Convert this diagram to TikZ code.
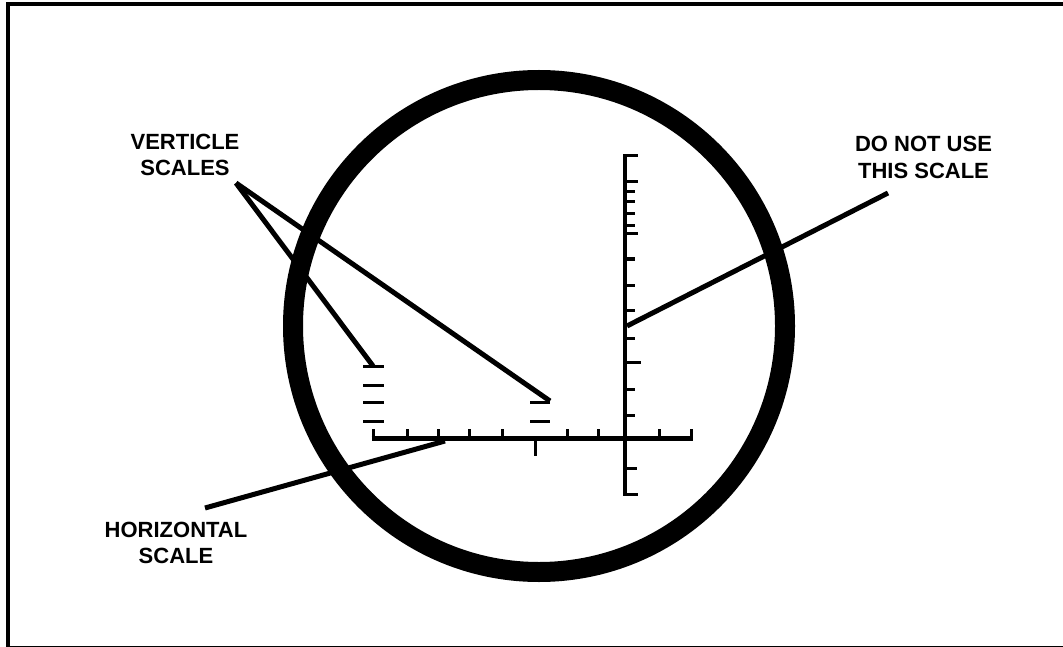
\documentclass[tikz,border=0pt]{standalone}
\usepackage{fontspec}
\setmainfont{Liberation Sans}
\usepackage{tikz}
\tikzset{
  frameline/.style={draw, line width=4pt},
  lens/.style={draw, line width=20pt},
  axisline/.style={line width=4.8pt},
  tick/.style={line width=3pt},
  leader/.style={line width=5pt},
  callout/.style={align=center, font=\fontsize{22}{26.5}\selectfont\bfseries, inner sep=0pt}
}
\begin{document}
\begin{tikzpicture}[x=1pt,y=-1pt]
        \useasboundingbox (0,0) rectangle (1063,647);
        \draw[frameline] (8,4) rectangle (1072,647.5);
        \node[lens, circle, minimum size=492pt] (ring) at (539,326) {};
        \node[callout] (vert) at (185,155) {VERTICLE\\SCALES};
        \node[callout] (donot) at (923.5,157.5) {DO NOT USE\\THIS SCALE};
        \node[callout] (horiz) at (176,543) {HORIZONTAL\\SCALE};
        \coordinate (vfoot) at (236,183);
        \coordinate (dfoot) at (888,193);
        \coordinate (hfoot) at (205,508);
        \coordinate (vleft) at (373,366);
        \coordinate (vmid) at (550,401);
        \coordinate (vaxis) at (627,326);
        \coordinate (haxis) at (445,441);
        \coordinate (axl) at (371.5,438.5);
        \coordinate (axr) at (692.5,438.5);
        \coordinate (axt) at (625,154.5);
        \coordinate (axb) at (625,495.5);
        % reticle
        \draw[axisline] (axl) -- (axr);
        \draw[axisline] (axt) -- (axb);
        \foreach \x in {373,407,438,469,502,567,598,659,691}
          \draw[tick] (\x,438) -- (\x,429);
        \draw[tick] (535,438) -- (535,456);
        \foreach \y/\e in {156/638,182/638,192/635,202/635,214/635,226/635,234/638,259/635,285/635,310/635,338/635,362/641,389/635,415/635,468/637,494/638}
          \draw[tick] (625,\y) -- (\e,\y);
        \foreach \y in {366,385,402,421}
          \draw[tick] (363,\y) -- (384,\y);
        \foreach \y in {402,421}
          \draw[tick] (530,\y) -- (550,\y);
        % leaders
        \draw[leader] (vfoot) -- (vleft);
        \draw[leader] (vfoot) -- (vmid);
        \draw[leader] (dfoot) -- (vaxis);
        \draw[leader] (hfoot) -- (haxis);
      \end{tikzpicture}
\end{document}
